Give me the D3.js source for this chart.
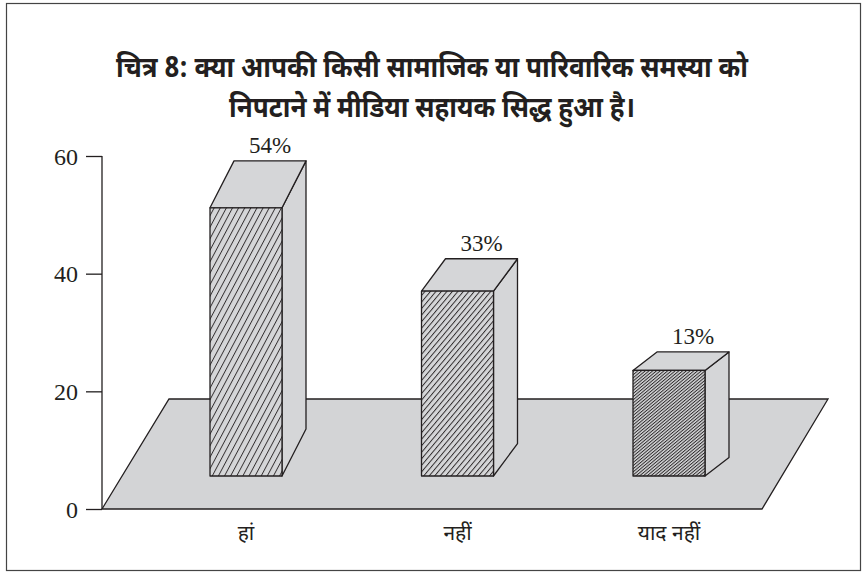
<!DOCTYPE html>
<html>
<head>
<meta charset="utf-8">
<script src="https://cdn.jsdelivr.net/npm/d3@7"></script>
<style>
  body { margin: 0; background: #fff; }
  .title { font-family: "Noto Sans Devanagari", "Noto Sans", sans-serif; font-weight: bold; font-size: 29px; fill: #231f20; }
  .tick text, .valLabel { font-family: "Liberation Serif", "DejaVu Serif", serif; fill: #231f20; }
  .catLabel { font-family: "Noto Sans Devanagari", "Noto Sans", sans-serif; font-size: 21px; fill: #231f20; }
</style>
</head>
<body>
<div id="chart"></div>
<script>
// data
var categories = ['हां', 'नहीं', 'याद नहीं'];
var values = [54, 33, 13];
var valueLabels = ['54%', '33%', '13%'];
var yTicks = [0, 20, 40, 60];
var titleLines = ['चित्र 8: क्या आपकी किसी सामाजिक या पारिवारिक समस्या को',
                  'निपटाने में मीडिया सहायक सिद्ध हुआ है।'];

var width = 864, height = 573;
var ink = '#231f20', faceFill = '#d5d6d8', floorFill = '#d3d4d6';

// hatch style per bar: angle of lines from horizontal, gap between lines
var hatch = [ {angle: 62, gap: 5.4}, {angle: 50, gap: 4.2}, {angle: 40, gap: 2.4} ];
// title widths, the original face is narrow so squeeze it
var titleWidths = [632, 406];

var svg = d3.select('#chart').append('svg')
	.attr('width', width)
	.attr('height', height);

var defs = svg.append('defs');
hatch.forEach(function(h, i) {
	var p = defs.append('pattern')
		.attr('id', 'hatch' + i)
		.attr('patternUnits', 'userSpaceOnUse')
		.attr('width', h.gap)
		.attr('height', 10)
		.attr('patternTransform', 'rotate(' + (90 - h.angle) + ')');
	p.append('rect').attr('width', h.gap).attr('height', 10).attr('fill', faceFill);
	p.append('line')
		.attr('x1', 0.5).attr('y1', 0).attr('x2', 0.5).attr('y2', 10)
		.attr('stroke', ink).attr('stroke-width', 0.9);
});

// frame
svg.append('rect')
	.attr('x', 6.5).attr('y', 3.5)
	.attr('width', 854).attr('height', 567)
	.attr('fill', 'none').attr('stroke', '#444').attr('stroke-width', 1.2);

// title
svg.selectAll('.title')
	.data(titleLines)
	.enter().append('text')
	.attr('class', 'title')
	.attr('x', width / 2)
	.attr('y', function(d, i) { return 77 + i * 40; })
	.attr('text-anchor', 'middle')
	.attr('textLength', function(d, i) { return titleWidths[i]; })
	.attr('lengthAdjust', 'spacingAndGlyphs')
	.text(function(d) { return d; });

// scales
var axisX = 102;
var y = d3.scaleLinear().domain([0, 60]).range([509, 156]);
var x = d3.scalePoint().domain(categories).range([246, 669]);
// bars sit forward on the floor, their height scale is its own
var barBase = 476;
var barY = d3.scaleLinear().domain([0, 60]).range([422, 184]);
var barW = 72, depthX = 24, depthRatio = 0.175;

// floor
var floorTop = 399;
var floorPts = [[axisX, y(0)], [169, floorTop], [828, floorTop], [762, y(0)]];
svg.append('path')
	.attr('d', d3.line()(floorPts) + 'Z')
	.attr('fill', floorFill)
	.attr('stroke', ink)
	.attr('stroke-width', 1.3);

// y axis
var yAxis = d3.axisLeft(y)
	.tickValues(yTicks)
	.tickSize(16)
	.tickPadding(8);
var ag = svg.append('g')
	.attr('transform', 'translate(' + axisX + ',0)')
	.call(yAxis);
ag.select('.domain').attr('d', 'M0,' + y(60) + 'V' + y(0)).attr('stroke', ink).attr('stroke-width', 1.3);
ag.selectAll('.tick line').attr('stroke', ink).attr('stroke-width', 1.3);
ag.selectAll('.tick text').attr('font-size', 24).attr('dy', '0.34em');

// bars
var bars = svg.selectAll('.bar')
	.data(values)
	.enter().append('g')
	.attr('class', 'bar');

bars.each(function(v, i) {
	var g = d3.select(this);
	var left = x(categories[i]) - barW / 2, right = left + barW;
	var top = barY(v);
	var dy = depthRatio * (barBase - top);
	var stroke = function(sel) {
		return sel.attr('stroke', ink).attr('stroke-width', 1.3).attr('stroke-linejoin', 'round');
	};
	// side face
	stroke(g.append('path')
		.attr('d', d3.line()([[right, top], [right + depthX, top - dy], [right + depthX, barBase - dy], [right, barBase]]) + 'Z')
		.attr('fill', faceFill));
	// top face
	stroke(g.append('path')
		.attr('d', d3.line()([[left, top], [left + depthX, top - dy], [right + depthX, top - dy], [right, top]]) + 'Z')
		.attr('fill', faceFill));
	// front face
	stroke(g.append('rect')
		.attr('x', left).attr('y', top)
		.attr('width', barW).attr('height', barBase - top)
		.attr('fill', 'url(#hatch' + i + ')'));
	// value label
	g.append('text')
		.attr('class', 'valLabel')
		.attr('x', x(categories[i]) + depthX)
		.attr('y', top - dy - 8)
		.attr('text-anchor', 'middle')
		.attr('font-size', 23)
		.text(valueLabels[i]);
});

// category labels
svg.selectAll('.catLabel')
	.data(categories)
	.enter().append('text')
	.attr('class', 'catLabel')
	.attr('x', function(d) { return x(d); })
	.attr('y', 540)
	.attr('text-anchor', 'middle')
	.text(function(d) { return d; });
</script>
</body>
</html>
